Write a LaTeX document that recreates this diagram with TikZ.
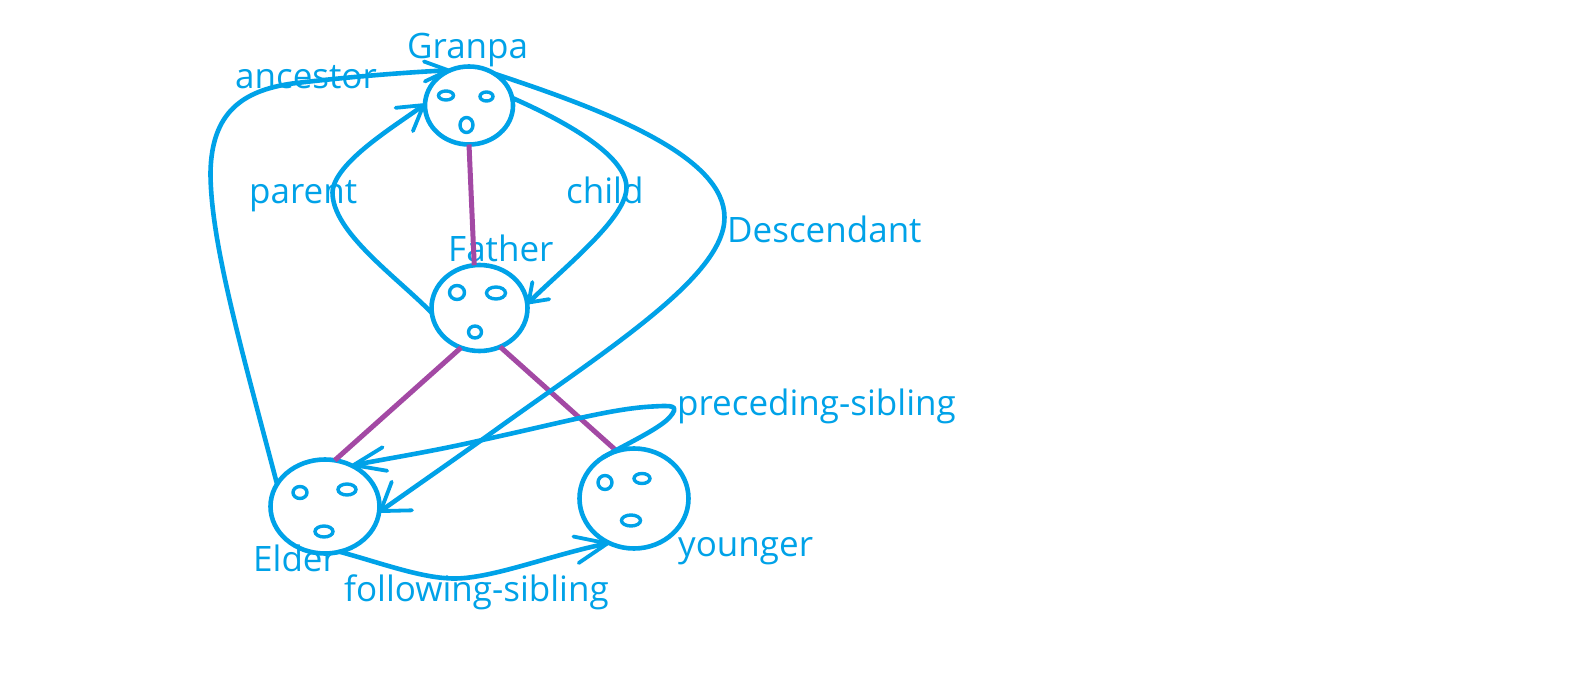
\documentclass[tikz,border=0pt]{standalone}
\usepackage{fontspec}
\setmainfont{Open Sans}
\usetikzlibrary{arrows.meta,shapes.geometric}
\definecolor{ink}{HTML}{00A2E8}
\definecolor{edgep}{HTML}{A349A4}
\tikzset{
  head/.style={draw=ink,line width=4.6pt,ellipse,inner sep=0pt,outer sep=0pt},
  feature/.style={draw=ink,line width=3.4pt,ellipse,inner sep=0pt,outer sep=0pt},
  lab/.style={text=ink,font=\fontsize{35}{38}\selectfont,anchor=base west,inner sep=0pt},
  rel/.style 2 args={draw=ink,line width=4.6pt,line cap=round,line join=round,
    -{Straight Barb[length=#1pt,width=#2pt,line width=3.8pt,round]}},
  tree/.style={draw=edgep,line width=5pt}
}
\begin{document}
\begin{tikzpicture}[x=1pt,y=-1pt]
\path[use as bounding box,fill=white] (-1.5,-1.5) rectangle (1570.5,685.5);
% labels
\node[lab] (tg) at (405.5,57.5) {Granpa};
\node[lab] (ta) at (233.5,87) {ancestor};
\node[lab] (tp) at (247.5,202) {parent};
\node[lab] (tc) at (564.5,202) {child};
\node[lab] (tf) at (446.5,260) {Father};
\node[lab] (td) at (725.5,241) {Descendant};
\node[lab] (ts) at (675.5,414) {preceding-sibling};
\node[lab] (te) at (251.5,570) {Elder};
\node[lab] (tl) at (342.5,600) {following-sibling};
\node[lab] (ty) at (676.5,555) {younger};
% heads
\node[head,minimum width=88pt,minimum height=78pt] (gp) at (467.5,104) {};
\node[head,minimum width=96pt,minimum height=86pt] (fa) at (478,306.5) {};
\node[head,minimum width=109pt,minimum height=94pt] (el) at (323.5,505) {};
\node[head,minimum width=109pt,minimum height=100pt] (yo) at (632.5,497) {};
% faces
\foreach \n/\x/\y/\w/\h in {g1/444.5/94/15/9,g2/485/95/13/9,g3/465/123.5/13/15,
  f1/455.5/291/15/14,f2/494.5/291.5/19/12,f3/473.5/330.5/13/12,
  e1/298.5/491/14/12,e2/345.5/488/18/11,e3/322.5/530/18/11,
  y1/603.5/481/14/14,y2/640.5/477/16/10,y3/629.5/519/19/11}
  \node[feature,minimum width=\w pt,minimum height=\h pt] (\n) at (\x,\y) {};
% tree edges
\draw[tree] (gp.south) -- (fa.97);
\draw[tree] (fa.245) -- (el.78);
\draw[tree] (fa.298) -- (yo.110);
% relations
\draw[rel={24}{20}] (el.155) .. controls (241,351) and (209,241) .. (209,171)
  .. controls (210,111) and (241,89) .. (291,82)
  .. controls (341,76) and (401,71) .. (gp.118);
\draw[rel={24}{29}] (fa.186) .. controls (396,276) and (331,231) .. (331,191)
  .. controls (332,161) and (396,123) .. (gp.178);
\draw[rel={17}{24}] (gp.10) .. controls (571,123) and (625,156) .. (625,186)
  .. controls (625,216) and (566,263) .. (fa.5);
\draw[rel={26}{35}] (gp.51) .. controls (611,111) and (723,156) .. (723,216)
  .. controls (723,276) and (601,351) .. (485,435)
  .. controls (450,460) and (411,487) .. (el.354);
\draw[rel={32}{24}] (yo.127) .. controls (626,442) and (656,428) .. (667,417)
  .. controls (680,403) and (670,404) .. (651,405)
  .. controls (611,407) and (561,421) .. (483,438)
  .. controls (431,450) and (386,457) .. (el.57);
\draw[rel={32}{27}] (el.288) .. controls (381,562) and (421,577) .. (453,577)
  .. controls (491,577) and (551,553) .. (yo.241);
\end{tikzpicture}
\end{document}
